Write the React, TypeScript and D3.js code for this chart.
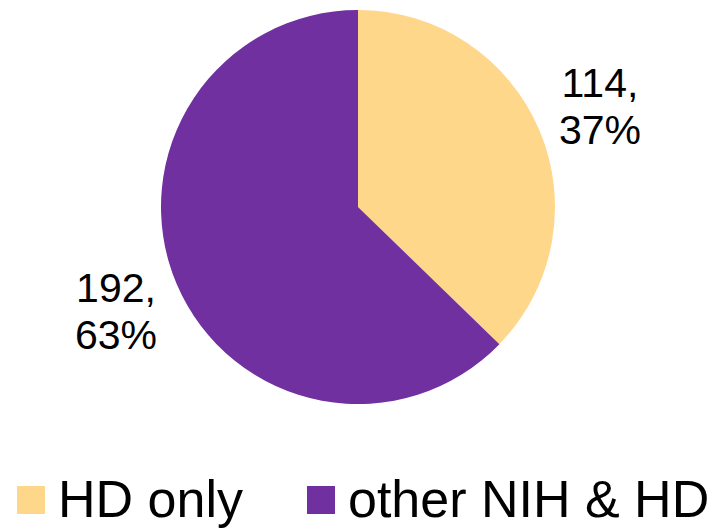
import React from 'react';
import * as d3 from 'd3';

const categories = ['HD only', 'other NIH & HD'];
const counts = [114, 192];
const percents = ['37%', '63%'];
const colors = ['#FFD78A', '#7030A0'];

const width = 728;
const height = 528;
const cx = 358;
const cy = 207;
const radius = 197;

// label anchor positions relative to pie centre
const labelPos: [number, number][] = [[242, -110], [-242, 95]];

const App: React.FC = () => {
  const pie = d3.pie<number>().sort(null).value(d => d);
  const arcs = pie(counts);
  const arc = d3.arc<d3.PieArcDatum<number>>().innerRadius(0).outerRadius(radius);

  const legendX = [17, 307];

  return (
    <svg
      width={width}
      height={height}
      style={{ position: 'absolute', left: 0, top: 0, background: '#fff' }}
      fontFamily="'Liberation Sans', Arial, sans-serif"
    >
      <g transform={`translate(${cx},${cy})`}>
        {arcs.map((a, i) => (
          <path key={i} d={arc(a) ?? ''} fill={colors[i]} />
        ))}
        {arcs.map((a, i) => (
          <text key={'l' + i} textAnchor="middle" fontSize={41} fill="#000">
            <tspan x={labelPos[i][0]} y={labelPos[i][1]}>{counts[i]},</tspan>
            <tspan x={labelPos[i][0]} y={labelPos[i][1] + 47}>{percents[i]}</tspan>
          </text>
        ))}
      </g>
      {categories.map((c, i) => (
        <g key={c}>
          <rect x={legendX[i]} y={486} width={28} height={28} fill={colors[i]} />
          <text x={legendX[i] + 41} y={517} fontSize={52} fill="#000">{c}</text>
        </g>
      ))}
    </svg>
  );
};

export default App;
